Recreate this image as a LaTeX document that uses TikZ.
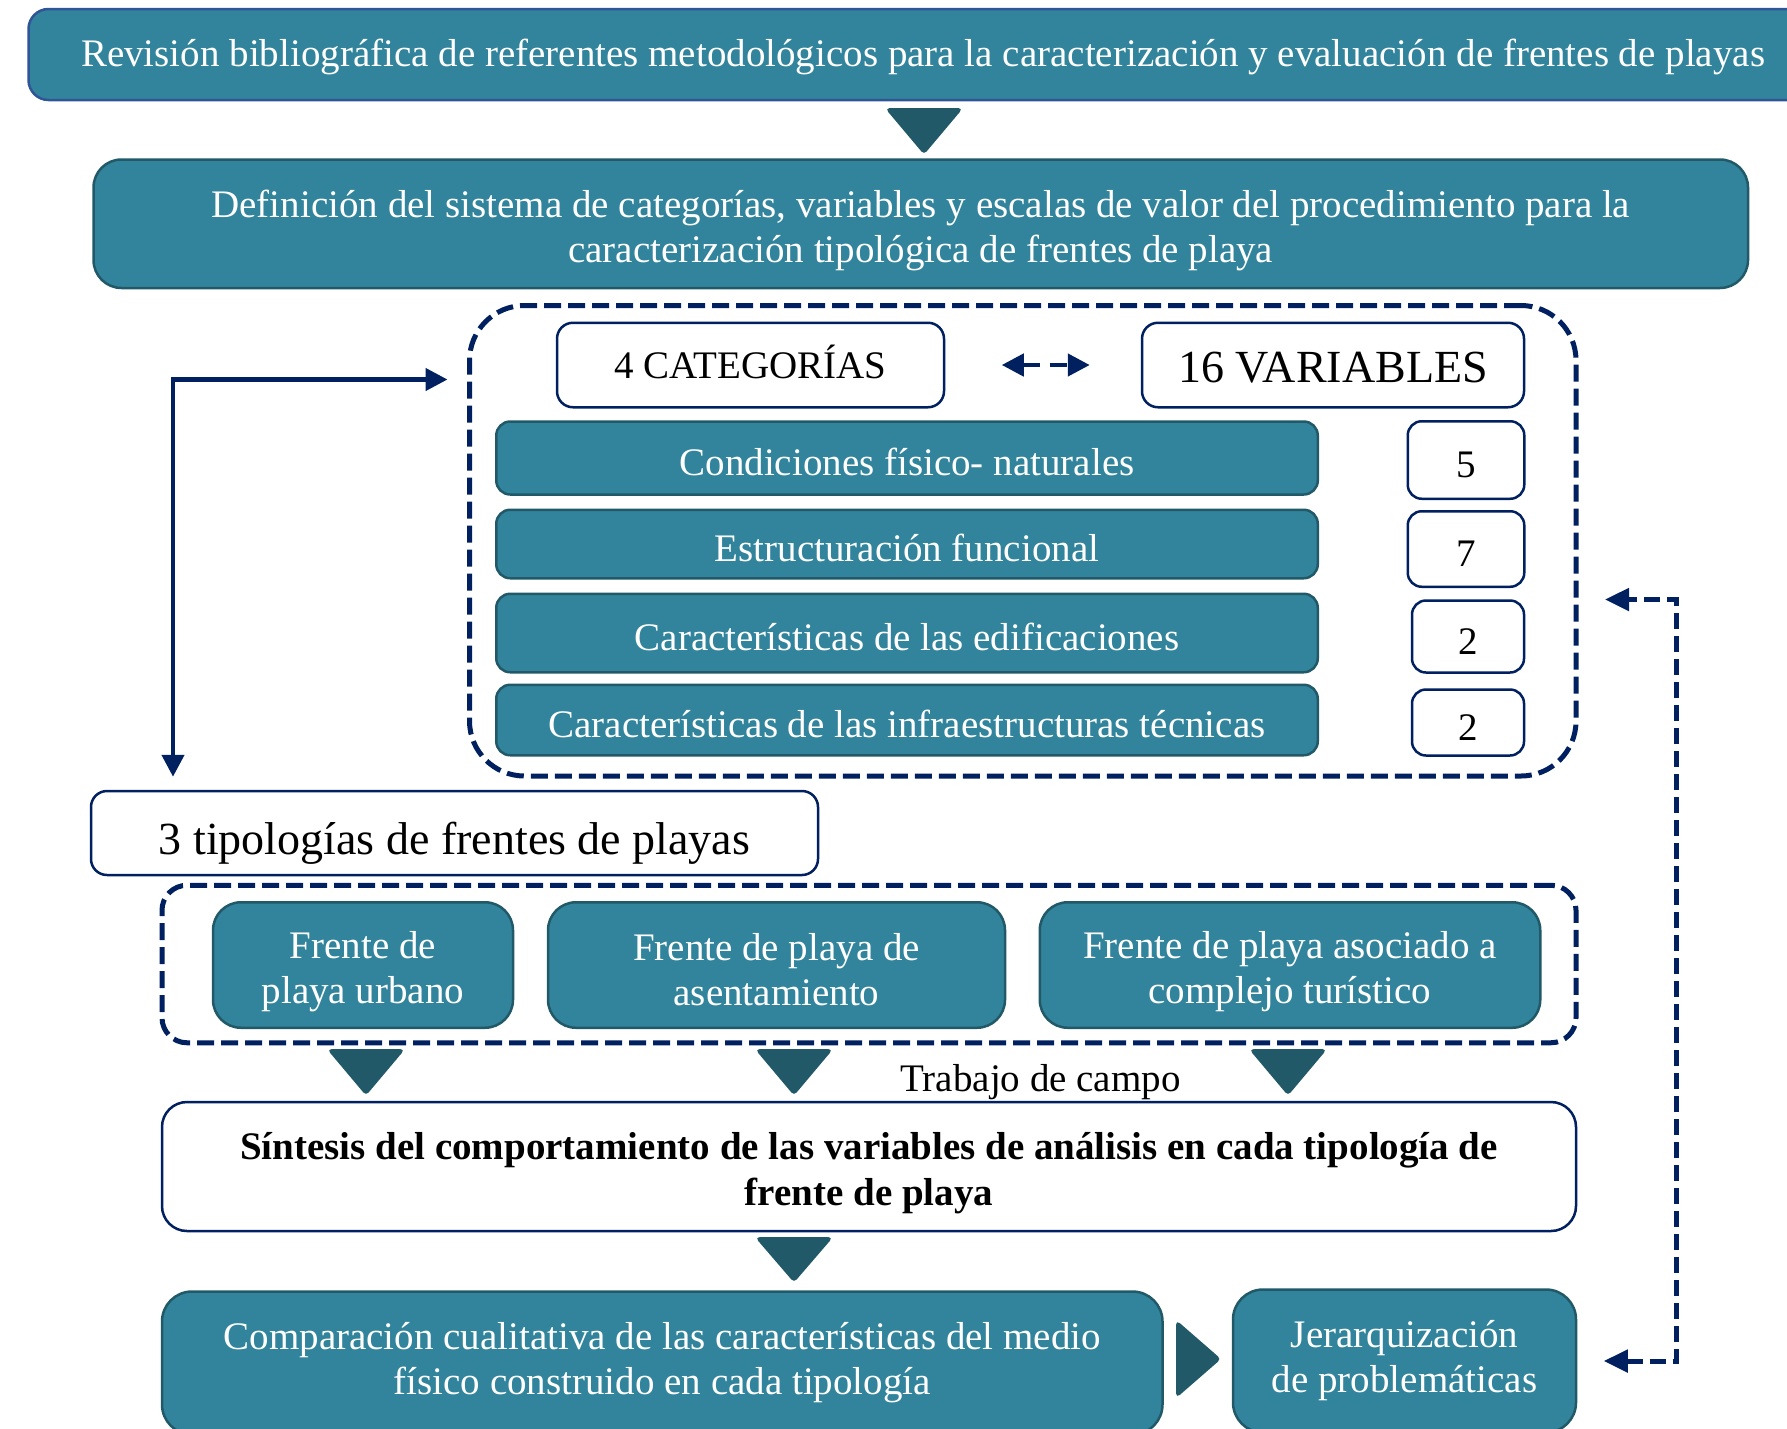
\documentclass[tikz,border=0pt]{standalone}
\usepackage{fontspec}
\setmainfont{Liberation Serif}
\usetikzlibrary{
    arrows.meta,
    shapes.geometric,
}
\definecolor{tealfill}{RGB}{49,132,155}
\definecolor{tealdark}{RGB}{33,89,104}
\definecolor{navy}{RGB}{0,32,96}
\definecolor{bordeazul}{RGB}{47,85,151}
% line struts, keep all baselines at the same place
\newcommand{\ls}{\rule[-5pt]{0pt}{45pt}}
\newcommand{\lsb}{\rule[-5pt]{0pt}{5pt}}

\begin{document}
\begin{tikzpicture}[x=1pt, y=-1pt,
        base/.style={inner sep=0pt, align=center, font=\fontsize{39}{45}\selectfont,
            execute at begin node=\ls, execute at end node=\ls},
        tealbox/.style={base, draw=tealdark, fill=tealfill, text=white, line width=2.5pt, rounded corners=14pt},
        whitebox/.style={base, draw=navy, fill=white, text=black, line width=2.5pt, rounded corners=16pt},
        grande/.style={font=\fontsize{46}{52}\selectfont},
        grupo/.style={draw=navy, line width=5pt, dash pattern=on 17pt off 7pt, rounded corners=55pt},
        tri/.style={fill=tealdark, draw=tealdark, line width=2pt, rounded corners=3pt},
        flecha/.style={draw=navy, line width=4.5pt, {Triangle[length=22pt,width=22pt]}-{Triangle[length=22pt,width=22pt]}},
        retro/.style={draw=navy, line width=5pt, dash pattern=on 16pt off 7pt, {Triangle[length=24pt,width=22pt]}-{Triangle[length=24pt,width=22pt]}},
    ]
        \useasboundingbox (0,0) rectangle (1787,1428);
        \clip (0,0) rectangle (1787,1428);

        % top of the flow
        \node[tealbox, text height=40pt, text depth=17pt, draw=bordeazul, minimum width=1789pt, minimum height=91pt, rounded corners=20pt] (revision) at (923,54.5) {Revisión bibliográfica de referentes metodológicos para la caracterización y evaluación de frentes de playas};
        \node[tealbox, minimum width=1654.5pt, minimum height=128.5pt, rounded corners=28pt] (definicion) at (920.75,223.75) {\ls Definición del sistema de categorías, variables y escalas de valor del procedimiento para la\\\lsb caracterización tipológica de frentes de playa};
        \fill[tri] (887,109) -- (961,109) -- (924,153) -- cycle;

        % categorias y variables
        \node[grupo, minimum width=1106.5pt, minimum height=470.5pt] (grupocat) at (1022.75,540.75) {};
        \node[whitebox, text height=40pt, text depth=14pt, minimum width=387pt, minimum height=84.5pt] (categorias) at (750.5,365) {4 CATEGORÍAS};
        \node[whitebox, grande, minimum width=382pt, minimum height=84.5pt] (variables) at (1333,365) {16 VARIABLES};
        \draw[flecha, dash pattern=on 17pt off 10pt, shorten <=56.5pt, shorten >=51pt] (categorias.east) -- (variables.west);

        \node[tealbox, minimum width=821.5pt, minimum height=73pt] (cat1) at (907,458) {Condiciones físico- naturales};
        \node[tealbox, minimum width=821.5pt, minimum height=68.5pt] (cat2) at (907,544) {Estructuración funcional};
        \node[tealbox, minimum width=821.5pt, minimum height=78.5pt] (cat3) at (907,633) {Características de las edificaciones};
        \node[tealbox, minimum width=821.5pt, minimum height=70.5pt] (cat4) at (907,720) {Características de las infraestructuras técnicas};

        \node[whitebox, minimum width=116.5pt, minimum height=77.5pt, rounded corners=14pt] (num1) at (1466,460) {5};
        \node[whitebox, minimum width=116.5pt, minimum height=75.5pt, rounded corners=14pt] (num2) at (1466,549) {7};
        \node[whitebox, minimum width=112pt, minimum height=72pt, rounded corners=14pt] (num3) at (1468,636.5) {2};
        \node[whitebox, minimum width=112pt, minimum height=66pt, rounded corners=14pt] (num4) at (1468,722.5) {2};

        % tipologias
        \node[whitebox, grande, text height=44pt, text depth=2pt, minimum width=727pt, minimum height=84pt] (tipologias) at (454.5,833) {3 tipologías de frentes de playas};
        \coordinate (esquina) at (173,379.5);
        \draw[flecha] ([xshift=-19.5pt]grupocat.west |- esquina) -- (esquina) -- ([yshift=13pt]tipologias.north -| esquina);

        \node[grupo, rounded corners=25pt, minimum width=1414pt, minimum height=157.5pt] (grupotip) at (869,964) {};
        \node[tealbox, rounded corners=28pt, minimum width=300pt, minimum height=125.5pt] (tip1) at (363,965) {\ls Frente de\\\lsb playa urbano};
        \node[tealbox, rounded corners=28pt, minimum width=457pt, minimum height=125.5pt] (tip2) at (776.5,965) {\ls Frente de playa de\\\lsb asentamiento};
        \node[tealbox, rounded corners=28pt, minimum width=500.5pt, minimum height=125.5pt] (tip3) at (1290,965) {\ls Frente de playa asociado a\\\lsb complejo turístico};

        \fill[tri] (329,1050) -- (403,1050) -- (366,1094) -- cycle;
        \fill[tri] (757,1050) -- (831,1050) -- (794,1094) -- cycle;
        \fill[tri] (1251,1050) -- (1325,1050) -- (1288,1094) -- cycle;
        \node[base] (campo) at (1040.5,1076) {Trabajo de campo};

        % sintesis y comparacion
        \node[whitebox, rounded corners=25pt, minimum width=1414pt, minimum height=129pt, font=\fontsize{39}{46}\selectfont\bfseries] (sintesis) at (869,1166.5) {\ls Síntesis del comportamiento de las variables de análisis en cada tipología de\\\lsb frente de playa};
        \fill[tri] (757,1238) -- (831,1238) -- (794,1281) -- cycle;

        \node[tealbox, rounded corners=30pt, minimum width=1000.5pt, minimum height=143pt] (comparacion) at (662.25,1363) {Comparación cualitativa de las características del medio\\físico construido en cada tipología};
        \fill[tri] (1177,1322) -- (1177,1396) -- (1219.5,1359) -- cycle;
        \node[tealbox, rounded corners=30pt, minimum width=343pt, minimum height=143pt] (jerarquia) at (1404.5,1361) {Jerarquización\\de problemáticas};

        % retroalimentacion
        \coordinate (retorno) at (1676.5,599.5);
        \draw[retro] ([xshift=26.5pt]jerarquia.east) -| (retorno) -- ([xshift=26.5pt]grupocat.east |- retorno);
\end{tikzpicture}
\end{document}
